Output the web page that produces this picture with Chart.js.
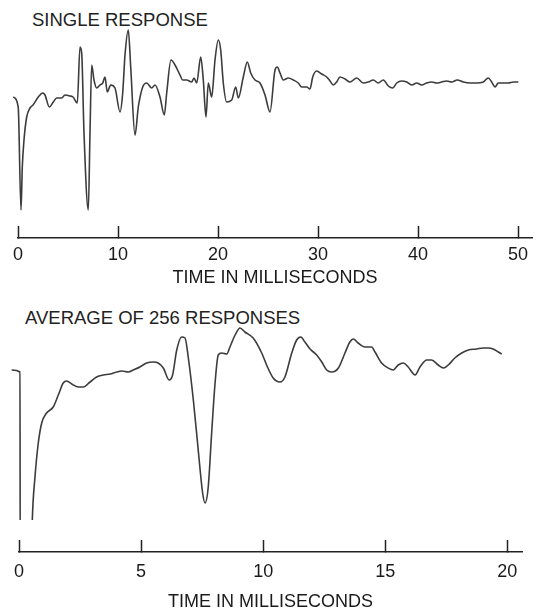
<!DOCTYPE html>
<html>
<head>
<meta charset="utf-8">
<script src="https://cdn.jsdelivr.net/npm/chart.js@4.4.1/dist/chart.umd.min.js"></script>
<style>
  html, body { margin: 0; padding: 0; background: #fff; overflow: hidden; }
  body { position: relative; width: 536px; height: 609px; font-family: "Liberation Sans", Arial, sans-serif; }
  .panel-title { position: absolute; font-size: 18.5px; line-height: 18px; color: #222; white-space: nowrap; }
  canvas { position: absolute; left: 0; }
</style>
</head>
<body>
<div class="panel-title" style="left:32px; top:11px">SINGLE RESPONSE</div>
<canvas id="single-chart" width="536" height="290" style="top:0"></canvas>
<div class="panel-title" style="left:25px; top:309px">AVERAGE OF 256 RESPONSES</div>
<canvas id="average-chart" width="536" height="320" style="top:300px"></canvas>

<script>
// time in ms, amplitude in arbitrary units (baseline = 0, up is positive)
const singleTimes = [
  -0.47, 0.02, 0.3, 0.43, 0.6, 0.87, 1.2, 1.5, 2.03, 2.47,
  2.7, 3.13, 3.53, 3.87, 4.37, 4.7, 5.2, 5.5, 5.93, 6.2,
  6.37, 6.6, 7.03, 7.2, 7.37, 7.6, 7.87, 8.2, 8.47, 8.7,
  8.93, 9.27, 9.7, 10.2, 10.47, 10.7, 11.03, 11.27, 11.7, 12.03,
  12.47, 12.87, 13.37, 13.7, 14.2, 14.63, 14.87, 15.3, 15.7, 16.2,
  16.47, 16.87, 17.37, 17.6, 17.87, 18.27, 18.53, 18.8, 19.03, 19.37,
  19.7, 20.03, 20.27, 20.53, 20.87, 21.37, 21.77, 22.03, 22.53, 22.93,
  23.27, 23.7, 24.2, 24.7, 25.2, 25.7, 25.93, 26.2, 26.53, 27.03,
  27.53, 28.03, 28.37, 28.87, 29.2, 29.47, 29.87, 30.37, 30.87, 31.2,
  31.53, 31.87, 32.2, 32.7, 33.2, 33.87, 34.53, 35.03, 35.53, 36.03,
  36.53, 37.03, 37.47, 37.87, 38.37, 38.87, 39.37, 39.87, 40.37, 40.87,
  41.37, 41.87, 42.37, 42.87, 43.37, 43.93, 44.53, 45.2, 45.87, 46.53,
  47.03, 47.37, 47.7, 48.03, 48.53, 49.03, 49.53, 50.03,
];
const singleValues = [
  0, -10, -113, -70, -43, -20, -11, -8, 0, 4,
  2, -10, -5, -1, -1, 2, 1, 0, -6, 50,
  44, -36, -113, -36, 32, 17, 9, 12, 14, 20,
  5, 12, 9, -15, 4, 42, 67, 30, -38, -10,
  10, 14, 9, 12, 0, -18, 4, 37, 32, 22,
  17, 17, 15, 19, 14, 40, 17, -20, 14, 0,
  37, 57, 47, 14, -5, -3, 10, -1, 20, 35,
  24, 17, 14, 2, -15, 27, 30, 24, 17, 19,
  17, 14, 10, 10, 8, 20, 26, 23, 20, 16,
  12, 15, 20, 18, 15, 19, 14, 15, 17, 14,
  17, 11, 9, 14, 16, 15, 12, 14, 12, 14,
  15, 14, 15, 16, 15, 17, 15, 14, 14, 15,
  19, 15, 10, 14, 14, 14, 15, 15,
];
const singleTicks = [0, 10, 20, 30, 40, 50];

const averageTimes = [
  -0.3, 0.04, 0.05, 0.5, 0.545, 0.655, 0.79, 0.93, 1.13, 1.4,
  1.61, 1.81, 1.95, 2.16, 2.43, 2.63, 2.91, 3.18, 3.45, 3.73,
  4.0, 4.21, 4.48, 4.68, 4.95, 5.23, 5.5, 5.7, 5.91, 6.15,
  6.29, 6.46, 6.66, 6.8, 6.93, 7.14, 7.34, 7.52, 7.62, 7.75,
  7.89, 8.03, 8.16, 8.3, 8.51, 8.64, 8.85, 9.05, 9.25, 9.59,
  9.94, 10.14, 10.41, 10.69, 10.89, 11.17, 11.37, 11.54, 11.71, 11.92,
  12.19, 12.4, 12.6, 12.81, 13.08, 13.35, 13.55, 13.69, 13.89, 14.17,
  14.44, 14.58, 14.85, 15.12, 15.33, 15.53, 15.74, 15.94, 16.22, 16.42,
  16.7, 16.9, 17.17, 17.38, 17.58, 17.85, 18.13, 18.4, 18.74, 19.01,
  19.22, 19.42, 19.63, 19.77,
];
const averageValues = [
  0, -2, -200, -200, -150, -107, -73, -53, -43, -37,
  -25, -13, -11, -14, -17, -17, -12, -7, -5, -4,
  -2, -1, -2, 0, 3, 7, 8, 7, 2, -10,
  -5, 20, 33, 32, 13, -30, -80, -123, -133, -117,
  -63, -13, 15, 17, 16, 23, 35, 42, 38, 32,
  17, 5, -8, -12, -7, 17, 30, 33, 28, 21,
  15, 8, 0, -2, 2, 17, 28, 31, 27, 23,
  23, 18, 7, 2, 0, 5, 7, 3, -5, 3,
  10, 10, 5, 2, 5, 12, 17, 20, 21, 22,
  22, 21, 18, 16,
];
const averageTicks = [0, 5, 10, 15, 20];

const FONT = "'Liberation Sans', Arial, Helvetica, sans-serif";
const TRACE_COLOR = "#3c3c3c";
const AXIS_COLOR = "#222";
const TEXT_COLOR = "#1a1a1a";

initializeResponseChart("single-chart", {
  times: singleTimes,
  values: singleValues,
  ticks: singleTicks,
  xMax: 51.4,
  yMin: -141,
  yMax: 77,
  padding: { top: 20, left: 18, right: 4, bottom: 1 },
  axisHeight: 51,
  tickPadding: 18,
  clip: false,
});

initializeResponseChart("average-chart", {
  times: averageTimes,
  values: averageValues,
  ticks: averageTicks,
  xMax: 20.6,
  yMin: -182,
  yMax: 50,
  padding: { top: 20, left: 19, right: 14, bottom: 7 },
  axisHeight: 61,
  tickPadding: 21,
  // the stimulus dip runs off the bottom of the trace window
  clip: { left: false, top: false, right: false, bottom: -32 },
});

function buildTrace(times, values) {
  return times.map((t, i) => ({ x: t, y: values[i] }));
}

function initializeResponseChart(canvasId, cfg) {
  return new Chart(document.getElementById(canvasId), {
    type: "line",
    data: {
      datasets: [{
        data: buildTrace(cfg.times, cfg.values),
        borderColor: TRACE_COLOR,
        borderWidth: 1.6,
        pointRadius: 0,
        cubicInterpolationMode: "monotone",
        clip: cfg.clip,
      }],
    },
    options: {
      responsive: false,
      animation: false,
      events: [],
      layout: { padding: cfg.padding },
      plugins: {
        legend: { display: false },
        tooltip: { enabled: false },
      },
      scales: {
        x: {
          type: "linear",
          min: 0,
          max: cfg.xMax,
          afterBuildTicks: (scale) => {
            scale.ticks = cfg.ticks.map((value) => ({ value }));
          },
          afterFit: (scale) => {
            scale.height = cfg.axisHeight;
            // labels fit inside the layout padding, don't let them push the plot in
            scale.paddingLeft = 0;
            scale.paddingRight = 0;
          },
          // negative tick length -> tick marks stand up from the axis line
          grid: { drawOnChartArea: false, drawTicks: true, tickLength: -12, tickWidth: 1.5, tickColor: AXIS_COLOR },
          border: { display: true, color: AXIS_COLOR, width: 1.5 },
          ticks: { color: TEXT_COLOR, padding: cfg.tickPadding, maxRotation: 0, autoSkip: false, font: { family: FONT, size: 18 } },
          title: { display: true, text: "TIME IN MILLISECONDS", color: TEXT_COLOR, padding: 0, font: { family: FONT, size: 18 } },
        },
        y: { type: "linear", display: false, min: cfg.yMin, max: cfg.yMax },
      },
    },
  });
}
</script>
</body>
</html>
